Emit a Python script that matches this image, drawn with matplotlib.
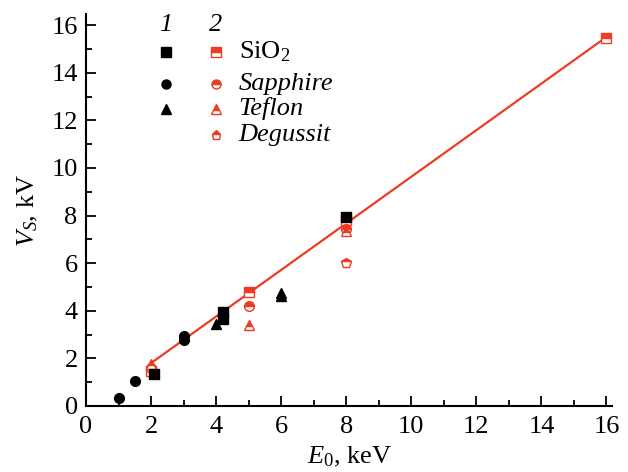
import matplotlib
matplotlib.use("Agg")
import matplotlib.pyplot as plt

plt.rcParams["font.family"] = ["Liberation Serif", "DejaVu Serif"]
plt.rcParams["mathtext.fontset"] = "custom"
plt.rcParams["mathtext.rm"] = "Liberation Serif"
plt.rcParams["mathtext.it"] = "Liberation Serif:italic"

RED = "#ee3b24"
FS = 19

# series 1 (black, filled)
sio2_1_x = [2.1, 4.2, 4.2, 8.0]
sio2_1_y = [1.35, 3.65, 3.95, 7.95]
sapph_1_x = [1.0, 1.5, 3.0, 3.0]
sapph_1_y = [0.35, 1.05, 2.75, 2.95]
teflon_1_x = [4.0, 6.0, 6.0]
teflon_1_y = [3.45, 4.6, 4.75]

# series 2 (red, half filled)
sio2_2_x = [2.0, 5.0, 8.0, 16.0]
sio2_2_y = [1.45, 4.8, 7.8, 15.45]
sapph_2_x = [2.0, 5.0, 8.0]
sapph_2_y = [1.6, 4.2, 7.45]
teflon_2_x = [2.0, 5.0, 8.0]
teflon_2_y = [1.75, 3.4, 7.35]
degussit_2_x = [8.0]
degussit_2_y = [6.0]

fit_x = [2.0, 16.0]
fit_y = [1.8, 15.5]

fig = plt.figure(figsize=(6.28, 4.72), dpi=100)
ax = fig.add_axes([0.137, 0.140, 0.838, 0.830])

ax.plot(fit_x, fit_y, color=RED, lw=1.6, zorder=1)

blk = dict(color="black", ls="none", ms=7, zorder=3)
ax.plot(sio2_1_x, sio2_1_y, marker="s", **blk)
ax.plot(sapph_1_x, sapph_1_y, marker="o", **blk)
ax.plot(teflon_1_x, teflon_1_y, marker="^", **blk)

red = dict(ls="none", ms=7, fillstyle="top", color=RED, markerfacecolor=RED,
           markerfacecoloralt="white", markeredgecolor=RED, mew=1.0, zorder=2)
ax.plot(sio2_2_x, sio2_2_y, marker="s", **red)
ax.plot(sapph_2_x, sapph_2_y, marker="o", **red)
ax.plot(teflon_2_x, teflon_2_y, marker="^", **red)
ax.plot(degussit_2_x, degussit_2_y, marker="p", **red)

# legend drawn by hand in axes coordinates
labels = ["SiO$_2$", "Sapphire", "Teflon", "Degussit"]
styles = ["normal", "italic", "italic", "italic"]
markers = ["s", "o", "^", "p"]
rows_y = [0.903, 0.821, 0.758, 0.691]
col1, col2, col_txt = 0.152, 0.247, 0.29
tr = ax.transAxes
ax.text(col1, 0.972, "1", style="italic", fontsize=FS, ha="center", va="center", transform=tr)
ax.text(col2, 0.972, "2", style="italic", fontsize=FS, ha="center", va="center", transform=tr)
for i, (lab, st, m, yy) in enumerate(zip(labels, styles, markers, rows_y)):
    if i < 3:
        ax.plot([col1], [yy], marker=m, transform=tr, color="black", ls="none", ms=6.5, clip_on=False)
    ax.plot([col2], [yy], marker=m, transform=tr, clip_on=False, **dict(red, ms=6.5))
    ax.text(col_txt, yy, lab, style=st, fontsize=FS, ha="left", va="center", transform=tr)

ax.set_xlim(0, 16.18)
ax.set_ylim(0, 16.46)
ax.set_xticks(range(0, 17, 2))
ax.set_xticks(range(1, 17, 2), minor=True)
ax.set_yticks(range(0, 17, 2))
ax.set_yticks(range(1, 17, 2), minor=True)
ax.tick_params(which="both", direction="in", labelsize=FS, width=1.3)
ax.tick_params(which="major", length=7)
ax.tick_params(axis="x", which="major", pad=7)
ax.tick_params(axis="y", which="major", pad=6)
ax.tick_params(which="minor", length=4)
for s in ["top", "right"]:
    ax.spines[s].set_visible(False)
for s in ["left", "bottom"]:
    ax.spines[s].set_linewidth(1.5)

ax.set_xlabel("$E_0$, keV", fontsize=FS, labelpad=5)
ax.set_ylabel("$V_S$, kV", fontsize=FS, labelpad=8)

fig.savefig("out.png", dpi=100)
